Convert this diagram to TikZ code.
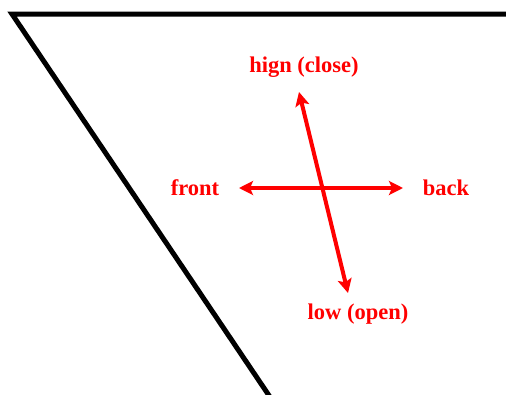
\documentclass[tikz,border=0pt]{standalone}
\usepackage{fontspec}
\setmainfont{Liberation Serif}
\usetikzlibrary{arrows.meta}
\begin{document}
\begin{tikzpicture}[x=1pt,y=-1pt,
  edge/.style={black,line width=5pt},
  arr/.style={red,line width=4pt,{Stealth[length=14pt,width=14pt,inset=3pt]}-{Stealth[length=14pt,width=14pt,inset=3pt]}},
  lbl/.style={text=red,font=\fontsize{22.5}{26}\selectfont\bfseries,inner sep=0pt}]
\useasboundingbox (0,0) rectangle (506,394);
\begin{scope}
\clip (0,0) rectangle (506,394);
\coordinate (tl) at (12,14);
\coordinate (tr) at (510,14);
\coordinate (bl) at (270,397);
\draw[edge,line join=miter] (tr) -- (tl) -- (bl);
\end{scope}
\coordinate (L) at (239,188);
\coordinate (R) at (403,188);
\coordinate (T) at (299,92);
\coordinate (B) at (348,293);
\draw[arr] (L) -- (R);
\draw[arr] (T) -- (B);
\node[lbl] (front) at (195,188) {front};
\node[lbl] (back) at (446,188) {back};
\node[lbl] (high) at (304,67) {hign (close)};
\node[lbl] (low) at (358,314) {low (open)};
\end{tikzpicture}
\end{document}
